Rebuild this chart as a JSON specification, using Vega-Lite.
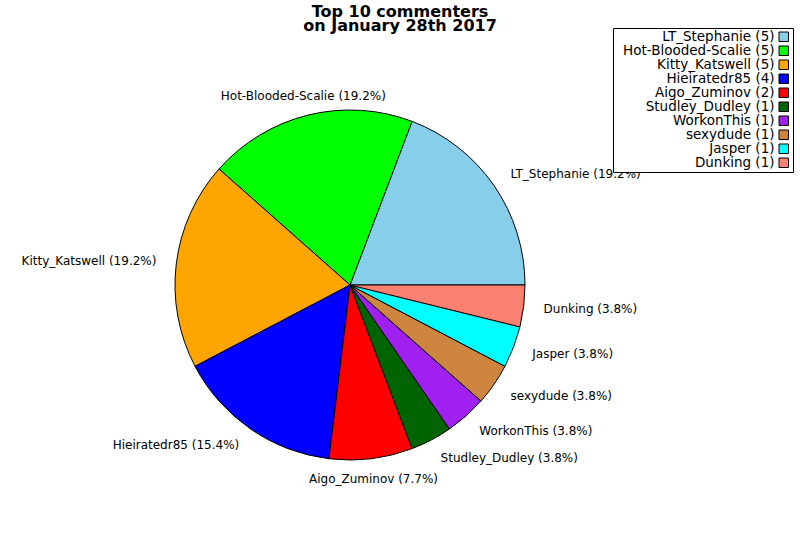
{
  "$schema": "https://vega.github.io/schema/vega-lite/v6.json",
  "width": 700,
  "height": 510,
  "autosize": "none",
  "padding": {"left": 0, "top": 30, "right": 100, "bottom": 0},
  "background": "white",
  "title": {
    "text": ["Top 10 commenters", "on January 28th 2017"],
    "font": "DejaVu Sans",
    "fontSize": 16,
    "fontWeight": "bold",
    "lineHeight": 13.5,
    "color": "black",
    "anchor": "middle",
    "dx": 50,
    "offset": -6
  },
  "data": {
    "values": [
      {"rank": 1, "name": "LT_Stephanie", "count": 5},
      {"rank": 2, "name": "Hot-Blooded-Scalie", "count": 5},
      {"rank": 3, "name": "Kitty_Katswell", "count": 5},
      {"rank": 4, "name": "Hieiratedr85", "count": 4},
      {"rank": 5, "name": "Aigo_Zuminov", "count": 2},
      {"rank": 6, "name": "Studley_Dudley", "count": 1},
      {"rank": 7, "name": "WorkonThis", "count": 1},
      {"rank": 8, "name": "sexydude", "count": 1},
      {"rank": 9, "name": "Jasper", "count": 1},
      {"rank": 10, "name": "Dunking", "count": 1}
    ]
  },
  "transform": [
    {"joinaggregate": [{"op": "sum", "field": "count", "as": "total"}]},
    {"window": [{"op": "sum", "field": "count", "as": "cum"}], "sort": [{"field": "rank"}]},
    {"calculate": "datum.name + ' (' + datum.count + ')'", "as": "entry"},
    {"calculate": "datum.name + ' (' + format(100 * datum.count / datum.total, '.1f') + '%)'", "as": "pct"},
    {"calculate": "cos(2 * PI * (datum.cum - datum.count / 2) / datum.total)", "as": "cx"}
  ],
  "encoding": {
    "theta": {
      "field": "count",
      "type": "quantitative",
      "stack": true,
      "scale": {"range": [7.853981634, 1.570796327]}
    },
    "order": {"field": "rank", "type": "quantitative"}
  },
  "layer": [
    {
      "mark": {"type": "arc", "radius": 175, "stroke": "black", "strokeWidth": 1},
      "encoding": {
        "color": {
          "field": "entry",
          "type": "nominal",
          "sort": null,
          "scale": {
            "domain": ["LT_Stephanie (5)", "Hot-Blooded-Scalie (5)", "Kitty_Katswell (5)", "Hieiratedr85 (4)", "Aigo_Zuminov (2)", "Studley_Dudley (1)", "WorkonThis (1)", "sexydude (1)", "Jasper (1)", "Dunking (1)"],
            "range": ["#87ceeb", "#00ff00", "#ffa500", "#0000ff", "#ff0000", "#006400", "#a020f0", "#cd853f", "#00ffff", "#fa8072"]
          },
          "legend": {
            "title": null,
            "orient": "none",
            "legendX": 613,
            "legendY": -2,
            "strokeColor": "black",
            "fillColor": "white",
            "padding": 2,
            "symbolType": "square",
            "symbolSize": 90,
            "symbolStrokeColor": "black",
            "symbolStrokeWidth": 1,
            "symbolOpacity": 1,
            "symbolOffset": 162,
            "labelFont": "DejaVu Sans",
            "labelFontSize": 13.5,
            "labelColor": "black",
            "labelAlign": "right",
            "labelOffset": -16,
            "labelLimit": 300,
            "rowPadding": -1
          }
        }
      }
    },
    {
      "mark": {
        "type": "text",
        "radius": 195,
        "font": "DejaVu Sans",
        "fontSize": 12,
        "color": "black",
        "baseline": "middle",
        "align": {"expr": "datum.cx > 0.3 ? 'left' : (datum.cx < -0.3 ? 'right' : 'center')"}
      },
      "encoding": {
        "text": {"field": "pct", "type": "nominal"}
      }
    }
  ]
}
